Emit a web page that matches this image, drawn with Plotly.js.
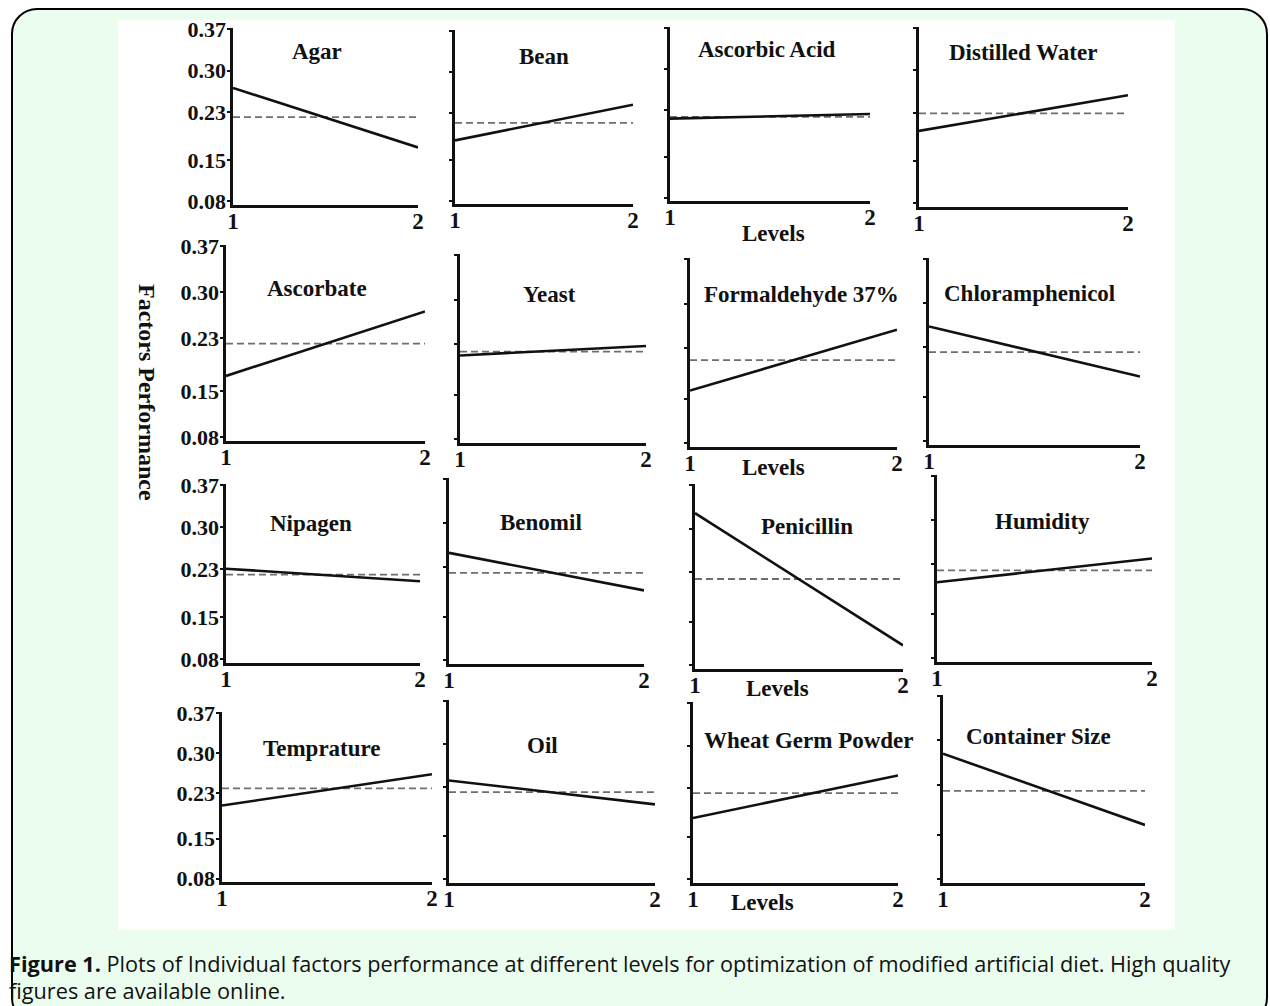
<!DOCTYPE html>
<html>
<head>
<meta charset="utf-8">
<script src="https://cdn.plot.ly/plotly-3.0.1.min.js"></script>
<style>
  html, body { margin: 0; padding: 0; background: #ffffff; }
  #frame { position: absolute; left: 11px; top: 8px; width: 1253px; height: 1012px;
           border: 2px solid #000; border-radius: 26px; background: #ebfdef; }
  #panel { position: absolute; left: 118px; top: 20px; width: 1057px; height: 910px; background: #ffffff; }
  #chart { position: absolute; left: 0; top: 0; width: 1270px; height: 1006px; }
</style>
</head>
<body>
<div id="frame"></div>
<div id="panel"></div>
<div id="chart"></div>
<script>
// ---- data ----
const factors = ['Agar', 'Bean', 'Ascorbic Acid', 'Distilled Water',
                 'Ascorbate', 'Yeast', 'Formaldehyde 37%', 'Chloramphenicol',
                 'Nipagen', 'Benomil', 'Penicillin', 'Humidity',
                 'Temprature', 'Oil', 'Wheat Germ Powder', 'Container Size'];
const levels = [1, 2];
const levelLabels = ['1', '2'];
const level1Perf = [0.271, 0.183, 0.215, 0.200,
                    0.173, 0.212, 0.163, 0.263,
                    0.231, 0.252, 0.325, 0.201,
                    0.208, 0.241, 0.181, 0.279];
const level2Perf = [0.171, 0.244, 0.223, 0.259,
                    0.271, 0.227, 0.259, 0.183,
                    0.210, 0.192, 0.112, 0.239,
                    0.263, 0.202, 0.251, 0.166];
const meanPerf   = [0.222, 0.213, 0.218, 0.229,
                    0.222, 0.218, 0.211, 0.222,
                    0.221, 0.220, 0.219, 0.220,
                    0.238, 0.222, 0.222, 0.220];
const yTickVals = [0.08, 0.15, 0.23, 0.30, 0.37];
const yTickText = ['0.08', '0.15', '0.23', '0.30', '0.37'];

// ---- layout geometry (pixels) ----
const W = 1270, H = 1006;
const boxes = [ // [x0, x1, yTop, yBottom]
  [233, 418, 28, 205], [455, 633, 30, 204], [670, 870, 27, 201], [919, 1128, 27, 207],
  [226, 425, 245, 441], [460, 646, 254, 443], [690, 897, 258, 447], [929, 1140, 258, 445],
  [226, 420, 484, 663], [449, 644, 478, 664], [695, 903, 484, 669], [937, 1152, 475, 662],
  [222, 432, 712, 882], [449, 655, 700, 883], [693, 898, 702, 883], [943, 1145, 695, 883]
];
const titlePos = [
  [317, 52], [544, 56], [767, 50], [1023, 53],
  [317, 288], [549, 294], [801, 294], [1029, 293],
  [311, 523], [541, 522], [807, 526], [1042, 521],
  [322, 748], [542, 745], [809, 740], [1038, 736]
];
const levelsPos = [[773, 233], [773, 468], [777, 688], [762, 902]];

const serif = 'Liberation Serif, Times New Roman, serif';
const px = x => x / W;
const py = y => 1 - y / H;

const traces = [];
const layout = {
  width: W, height: H,
  margin: {l: 0, r: 0, t: 0, b: 0},
  paper_bgcolor: 'rgba(0,0,0,0)',
  plot_bgcolor: 'rgba(0,0,0,0)',
  showlegend: false,
  annotations: []
};

factors.forEach((name, i) => {
  const n = i + 1;
  const xa = 'x' + (n === 1 ? '' : n);
  const ya = 'y' + (n === 1 ? '' : n);
  const b = boxes[i];
  const col = i % 4;
  traces.push({
    x: levels, y: [meanPerf[i], meanPerf[i]], xaxis: xa, yaxis: ya,
    mode: 'lines', line: {color: '#6e6e6e', width: 1.8, dash: '7px,4px'},
    cliponaxis: false, hoverinfo: 'skip'
  });
  traces.push({
    x: levels, y: [level1Perf[i], level2Perf[i]], xaxis: xa, yaxis: ya,
    mode: 'lines', line: {color: '#111111', width: 2.6},
    cliponaxis: false, name: name
  });
  layout['xaxis' + (n === 1 ? '' : n)] = {
    domain: [px(b[0]), px(b[1])], anchor: ya,
    range: [1, 2], showgrid: false, zeroline: false,
    showline: true, linecolor: '#111111', linewidth: 2.6,
    tickmode: 'array', tickvals: levels, ticktext: levelLabels,
    ticks: '', ticklabelstandoff: -6,
    tickfont: {family: serif, size: 23, color: '#111111', weight: 'bold'},
    fixedrange: true
  };
  layout['yaxis' + (n === 1 ? '' : n)] = {
    domain: [py(b[3]), py(b[2])], anchor: xa,
    range: [0.074, 0.372], showgrid: false, zeroline: false,
    showline: true, linecolor: '#111111', linewidth: 2.6,
    tickmode: 'array', tickvals: yTickVals, ticktext: yTickText,
    ticks: 'outside', ticklen: 3, tickwidth: 2, tickcolor: '#111111',
    showticklabels: col === 0, ticklabelstandoff: -3,
    tickfont: {family: serif, size: 22, color: '#111111', weight: 'bold'},
    fixedrange: true
  };
  layout.annotations.push({
    xref: 'paper', yref: 'paper', x: px(titlePos[i][0]), y: py(titlePos[i][1]),
    xanchor: 'center', yanchor: 'middle', showarrow: false,
    text: '<b>' + name + '</b>',
    font: {family: serif, size: 23, color: '#111111'}
  });
});

levelsPos.forEach(p => {
  layout.annotations.push({
    xref: 'paper', yref: 'paper', x: px(p[0]), y: py(p[1]),
    xanchor: 'center', yanchor: 'middle', showarrow: false,
    text: '<b>Levels</b>', font: {family: serif, size: 23, color: '#111111'}
  });
});

layout.annotations.push({
  xref: 'paper', yref: 'paper', x: px(147), y: py(392),
  xanchor: 'center', yanchor: 'middle', showarrow: false, textangle: 90,
  text: '<b>Factors Performance</b>', font: {family: serif, size: 24, color: '#111111'}
});

layout.annotations.push({
  xref: 'paper', yref: 'paper', x: px(7), y: py(963),
  xanchor: 'left', yanchor: 'middle', showarrow: false,
  text: '<b>Figure 1.</b> Plots of Individual factors performance at different levels for optimization of modified artificial diet. High quality',
  font: {family: 'Open Sans, Lato, sans-serif', size: 21.7, color: '#111111'}
});
layout.annotations.push({
  xref: 'paper', yref: 'paper', x: px(7), y: py(990),
  xanchor: 'left', yanchor: 'middle', showarrow: false,
  text: 'figures are available online.',
  font: {family: 'Open Sans, Lato, sans-serif', size: 21.7, color: '#111111'}
});

Plotly.newPlot('chart', traces, layout, {staticPlot: true, displayModeBar: false});
</script>
</body>
</html>
